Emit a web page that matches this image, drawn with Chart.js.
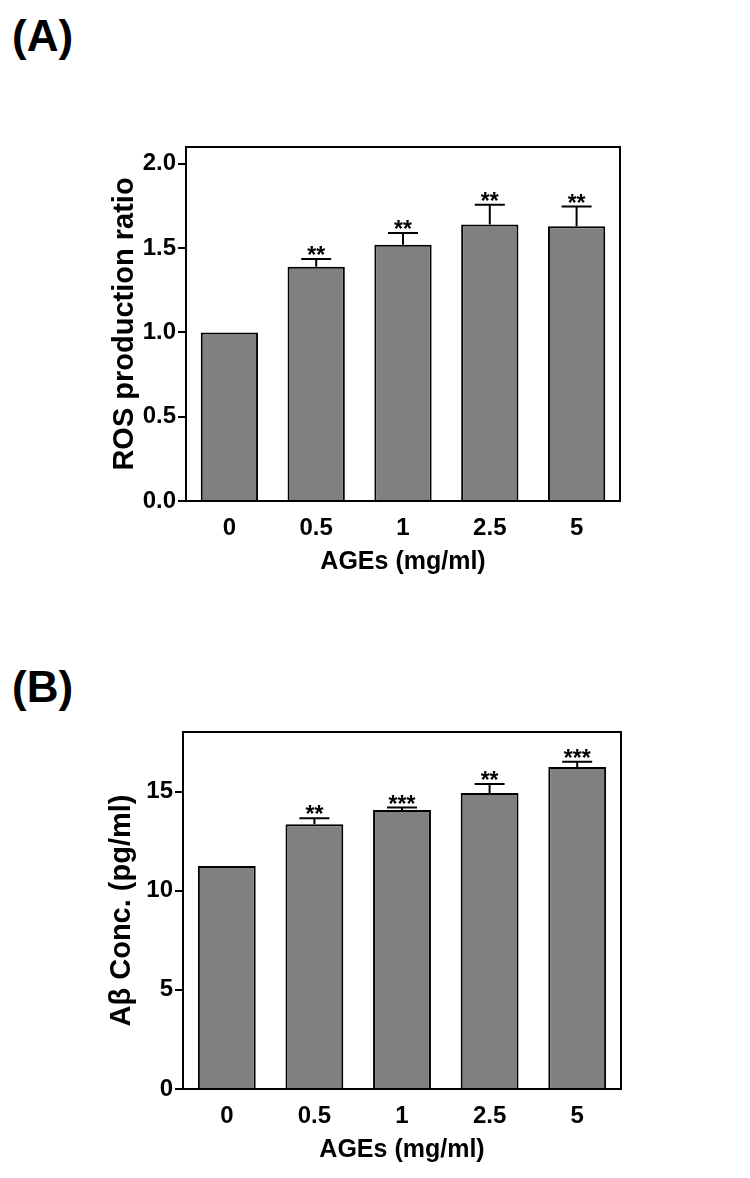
<!DOCTYPE html>
<html>
<head>
<meta charset="utf-8">
<script src="https://cdn.jsdelivr.net/npm/chart.js@4"></script>
<style>
  body { margin: 0; background: #fff; }
  #wrap { position: relative; width: 750px; height: 1178px; background: #fff; }
  .panel { position: absolute; left: 0; width: 750px; height: 589px; }
  .tag { position: absolute; left: 12px; font: bold 44px "Liberation Sans", Arial, sans-serif; line-height: 1; color: #000; }
</style>
</head>
<body>
<div id="wrap">
  <div class="tag" style="top:14px">(A)</div>
  <div class="tag" style="top:665px">(B)</div>
  <div class="panel" style="top:0"><canvas id="chartA"></canvas></div>
  <div class="panel" style="top:589px"><canvas id="chartB"></canvas></div>
</div>
<script>
const categories = ['0', '0.5', '1', '2.5', '5'];

const rosMean = [1.0, 1.39, 1.52, 1.64, 1.63];
const rosErr = [0, 0.045, 0.07, 0.117, 0.117];
const rosStars = ['', '**', '**', '**', '**'];

const abMean = [11.25, 13.35, 14.07, 14.93, 16.23];
const abErr = [0, 0.3, 0.12, 0.45, 0.27];
const abStars = ['', '**', '***', '**', '***'];

const FONT = '"Liberation Sans", Arial, sans-serif';
Chart.defaults.font.family = FONT;
Chart.defaults.color = '#000';

// error bars (upper only) + significance stars
const errorBars = {
    id: 'errorBars',
    afterDatasetsDraw(chart, args, opts) {
        const ctx = chart.ctx;
        const meta = chart.getDatasetMeta(0);
        const y = chart.scales.y;
        const vals = chart.data.datasets[0].data;
        ctx.save();
        ctx.strokeStyle = '#000';
        ctx.lineWidth = 2;
        meta.data.forEach((bar, i) => {
            let top = y.getPixelForValue(vals[i]);
            if (opts.err[i] > 0) {
                top = y.getPixelForValue(vals[i] + opts.err[i]);
                ctx.beginPath();
                ctx.moveTo(bar.x, y.getPixelForValue(vals[i]));
                ctx.lineTo(bar.x, top);
                ctx.moveTo(bar.x - 15, top);
                ctx.lineTo(bar.x + 15, top);
                ctx.stroke();
            }
            if (opts.stars[i]) {
                ctx.fillStyle = '#000';
                ctx.font = 'bold 23px ' + FONT;
                ctx.textAlign = 'center';
                ctx.textBaseline = 'alphabetic';
                ctx.fillText(opts.stars[i], bar.x, top + 4);
            }
        });
        ctx.restore();
    }
};

// closes the frame on top and right
const frame = {
    id: 'frame',
    afterDraw(chart) {
        const {ctx, chartArea: a} = chart;
        ctx.save();
        ctx.strokeStyle = '#000';
        ctx.lineWidth = 2;
        ctx.beginPath();
        ctx.moveTo(a.left, a.top);
        ctx.lineTo(a.right, a.top);
        ctx.lineTo(a.right, a.bottom);
        ctx.stroke();
        ctx.restore();
    }
};

function makeChart(id, values, err, stars, yTitle, yMax, step, fmt, pad) {
    return new Chart(document.getElementById(id), {
        type: 'bar',
        data: {
            labels: categories,
            datasets: [{
                data: values,
                backgroundColor: '#808080',
                borderColor: '#000',
                borderWidth: 2,
                barPercentage: 0.66,
                categoryPercentage: 1
            }]
        },
        options: {
            responsive: true,
            maintainAspectRatio: false,
            animation: false,
            layout: { padding: pad },
            plugins: {
                legend: { display: false },
                tooltip: { enabled: false },
                errorBars: { err: err, stars: stars }
            },
            scales: {
                x: {
                    afterFit: s => { s.height = 80; },
                    grid: { drawOnChartArea: false, drawTicks: false },
                    border: { color: '#000', width: 2 },
                    ticks: { padding: 13, font: { size: 24, weight: 'bold' } },
                    title: {
                        display: true,
                        text: 'AGEs (mg/ml)',
                        font: { size: 25, weight: 'bold' },
                        padding: { top: 0, bottom: 4 }
                    }
                },
                y: {
                    min: 0,
                    max: yMax,
                    afterFit: s => { s.width = 80; },
                    grid: { drawOnChartArea: false, drawTicks: true, tickLength: 8, color: '#000', lineWidth: 2 },
                    border: { color: '#000', width: 2 },
                    ticks: {
                        stepSize: step,
                        includeBounds: false,
                        padding: 2,
                        font: { size: 24, weight: 'bold' },
                        callback: fmt
                    },
                    title: {
                        display: true,
                        text: yTitle,
                        font: { size: 29, weight: 'bold' },
                        padding: { top: 2, bottom: 0 }
                    }
                }
            }
        },
        plugins: [errorBars, frame]
    });
}

makeChart('chartA', rosMean, rosErr, rosStars, 'ROS production ratio', 2.1, 0.5,
    v => v.toFixed(1), { left: 106, right: 130, top: 147, bottom: 8 });

makeChart('chartB', abMean, abErr, abStars, 'A\u03B2 Conc. (pg/ml)', 18, 5,
    v => v.toFixed(0), { left: 103, right: 129, top: 143, bottom: 9 });
</script>
</body>
</html>
